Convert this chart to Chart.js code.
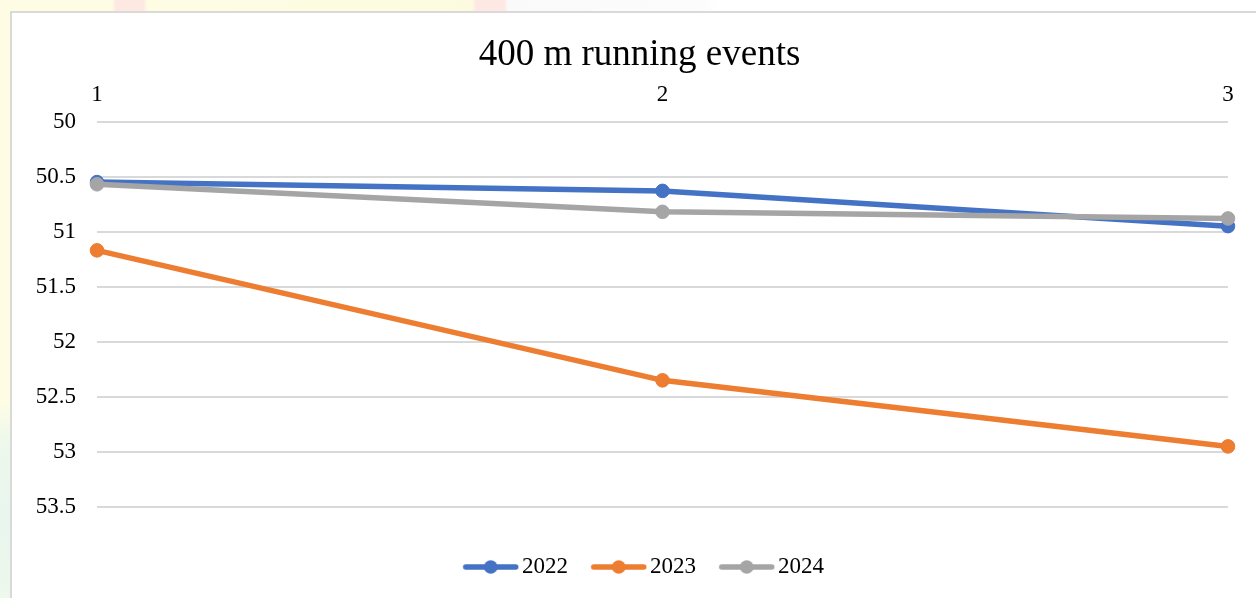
<!DOCTYPE html>
<html>
<head>
<meta charset="utf-8">
<script src="https://cdn.jsdelivr.net/npm/chart.js@4.4.1/dist/chart.umd.min.js"></script>
<style>
  html, body { margin: 0; padding: 0; width: 1256px; height: 598px; overflow: hidden; background: #ffffff; }
  #topbg { position: absolute; left: 0; top: 0; width: 1256px; height: 12px;
    background: linear-gradient(90deg, #fefde4 0px, #fefde4 112px, #fde9e2 116px, #fde9e2 143px, #fefde4 148px,
      #fdfbdf 472px, #fde8e4 476px, #fde8e4 504px, #fafafa 508px, #fcfcfc 700px, #ffffff 720px); }
  #leftbg { position: absolute; left: 0; top: 0; width: 12px; height: 598px;
    background: linear-gradient(180deg, #fefde4 0px, #fefde4 400px, #eef8ec 440px, #e8f6ee 520px, #eef8ec 598px); }
  #box { position: absolute; left: 10px; top: 11px; width: 1260px; height: 600px;
    background: #ffffff; border: 2px solid #d9d9d9; box-sizing: border-box; }
  #c { position: absolute; left: 0; top: 0; }
</style>
</head>
<body>
<div id="topbg"></div>
<div id="leftbg"></div>
<div id="box"></div>
<canvas id="c" width="1256" height="598"></canvas>
<script>
const chartTitle = '400 m running events';
const categories = ['1', '2', '3'];
const seriesNames = ['2022', '2023', '2024'];
const values2022 = [50.55, 50.63, 50.95];
const values2023 = [51.17, 52.35, 52.95];
const values2024 = [50.57, 50.82, 50.88];
const seriesColors = ['#4472C4', '#ED7D31', '#A5A5A5'];
const yMin = 50, yMax = 53.5, yStep = 0.5;

const FONT = "'Liberation Serif', 'Times New Roman', serif";

// legend symbol: line with a dot, shifted right inside a wider transparent image
function legendSymbol(color) {
  const cv = document.createElement('canvas');
  cv.width = 73; cv.height = 16;
  const g = cv.getContext('2d');
  const x0 = 16.5;
  g.strokeStyle = color; g.lineWidth = 5.5; g.lineCap = 'round';
  g.beginPath(); g.moveTo(x0 + 3, 8); g.lineTo(x0 + 53, 8); g.stroke();
  g.fillStyle = color;
  g.beginPath(); g.arc(x0 + 28, 8, 6.8, 0, Math.PI * 2); g.fill();
  return cv;
}
const symbols = seriesColors.map(legendSymbol);

const allValues = [values2022, values2023, values2024];
const datasets = seriesNames.map((name, i) => ({
  label: name,
  data: allValues[i],
  borderColor: seriesColors[i],
  backgroundColor: seriesColors[i],
  pointBackgroundColor: seriesColors[i],
  pointBorderColor: seriesColors[i],
  borderWidth: 5.5,
  pointRadius: 6.8,
  pointBorderWidth: 1,
  tension: 0,
  borderCapStyle: 'round',
  order: 3 - i
}));

new Chart(document.getElementById('c'), {
  type: 'line',
  data: { labels: categories, datasets },
  options: {
    responsive: false,
    animation: false,
    devicePixelRatio: 1,
    layout: { padding: { left: 23, right: 0, top: 42, bottom: 9.5 } },
    plugins: {
      title: {
        display: true, text: chartTitle, color: '#000',
        font: { family: FONT, size: 37, weight: 'normal', lineHeight: 0.7 },
        padding: { top: 0, bottom: 0 }
      },
      legend: {
        position: 'bottom',
        title: { display: true, text: ' ', font: { size: 33.5, lineHeight: 1 }, padding: 0 },
        labels: {
          usePointStyle: true,
          pointStyleWidth: 55.5,
          padding: 15,
          color: '#000',
          font: { family: FONT, size: 23 },
          sort: (a, b) => a.datasetIndex - b.datasetIndex,
          generateLabels: (chart) => Chart.defaults.plugins.legend.labels.generateLabels(chart)
            .map(l => Object.assign(l, { pointStyle: symbols[l.datasetIndex] }))
        }
      },
      tooltip: { enabled: false }
    },
    scales: {
      x: {
        type: 'category',
        position: 'top',
        offset: false,
        grid: { display: false, drawTicks: false },
        border: { display: false },
        ticks: { color: '#000', font: { family: FONT, size: 23 }, padding: 13, maxRotation: 0, autoSkip: false }
      },
      y: {
        type: 'linear',
        position: 'left',
        reverse: true,
        min: yMin, max: yMax,
        afterFit: (s) => { s.width = 74; },
        grid: { color: '#d9d9d9', lineWidth: 2, drawTicks: false },
        border: { display: false },
        ticks: {
          stepSize: yStep, color: '#000', padding: 21,
          font: { family: FONT, size: 23 },
          callback: (v) => String(Math.round(v * 10) / 10)
        }
      },
      yRightSpace: {
        type: 'linear',
        position: 'right',
        display: true,
        afterFit: (s) => { s.width = 28; },
        grid: { display: false, drawTicks: false },
        border: { display: false },
        ticks: { display: false }
      }
    }
  }
});
</script>
</body>
</html>
